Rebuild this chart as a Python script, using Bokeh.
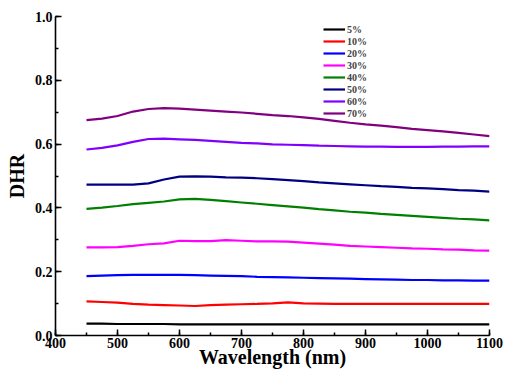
from bokeh.plotting import figure
from bokeh.embed import file_html
from bokeh.resources import INLINE
from bokeh.models import Range1d, SingleIntervalTicker, NumeralTickFormatter, Legend, LegendItem

wavelength = [450, 475, 500, 525, 550, 575, 600, 625, 650, 675, 700, 725, 750, 775,
              800, 825, 850, 875, 900, 925, 950, 975, 1000, 1025, 1050, 1075, 1100]

dhr_5 = [0.037, 0.037, 0.036, 0.036, 0.036, 0.036, 0.035, 0.035, 0.035, 0.035, 0.035, 0.035, 0.035, 0.035,
         0.035, 0.035, 0.035, 0.035, 0.035, 0.035, 0.035, 0.035, 0.035, 0.035, 0.035, 0.035, 0.035]
dhr_10 = [0.107, 0.105, 0.103, 0.099, 0.097, 0.0955, 0.094, 0.0925, 0.095, 0.097, 0.098, 0.099, 0.101, 0.104,
          0.101, 0.100, 0.099, 0.099, 0.099, 0.099, 0.099, 0.099, 0.099, 0.099, 0.099, 0.099, 0.099]
dhr_20 = [0.186, 0.188, 0.189, 0.190, 0.190, 0.190, 0.190, 0.189, 0.188, 0.187, 0.186, 0.184, 0.183, 0.182,
          0.181, 0.180, 0.179, 0.178, 0.177, 0.176, 0.175, 0.174, 0.174, 0.173, 0.173, 0.172, 0.172]
dhr_30 = [0.276, 0.276, 0.277, 0.281, 0.286, 0.289, 0.297, 0.296, 0.296, 0.299, 0.297, 0.295, 0.295, 0.294,
          0.291, 0.288, 0.285, 0.281, 0.279, 0.277, 0.275, 0.273, 0.272, 0.270, 0.269, 0.267, 0.266]
dhr_40 = [0.397, 0.401, 0.406, 0.412, 0.416, 0.420, 0.427, 0.428, 0.425, 0.421, 0.417, 0.413, 0.409, 0.405,
          0.401, 0.396, 0.392, 0.388, 0.385, 0.381, 0.378, 0.375, 0.372, 0.369, 0.366, 0.364, 0.361]
dhr_50 = [0.473, 0.473, 0.473, 0.473, 0.477, 0.489, 0.498, 0.499, 0.498, 0.496, 0.495, 0.493, 0.490, 0.487,
          0.484, 0.480, 0.477, 0.474, 0.471, 0.468, 0.466, 0.463, 0.461, 0.459, 0.456, 0.454, 0.451]
dhr_60 = [0.583, 0.588, 0.596, 0.607, 0.616, 0.617, 0.615, 0.613, 0.610, 0.607, 0.604, 0.602, 0.599, 0.598,
          0.597, 0.595, 0.594, 0.593, 0.592, 0.592, 0.591, 0.591, 0.591, 0.592, 0.592, 0.593, 0.593]
dhr_70 = [0.675, 0.680, 0.688, 0.702, 0.710, 0.713, 0.711, 0.708, 0.705, 0.702, 0.699, 0.695, 0.691, 0.688,
          0.684, 0.679, 0.673, 0.667, 0.662, 0.658, 0.653, 0.648, 0.644, 0.640, 0.635, 0.630, 0.625]

series_labels = ["5%", "10%", "20%", "30%", "40%", "50%", "60%", "70%"]
series_values = [dhr_5, dhr_10, dhr_20, dhr_30, dhr_40, dhr_50, dhr_60, dhr_70]
series_colors = ["#000000", "#FF0000", "#0000FF", "#FF00FF", "#008000", "#000080", "#8000FF", "#800080"]

x_title = "Wavelength (nm)"
y_title = "DHR"

FONT = "Liberation Serif"

p = figure(width=505, height=370, output_backend="svg", toolbar_location=None,
           x_range=Range1d(400, 1100), y_range=Range1d(0, 1.0))
p.min_border_left = 55
p.min_border_right = 16
p.min_border_top = 16
p.min_border_bottom = 35
p.outline_line_color = None
p.xgrid.visible = False
p.ygrid.visible = False
p.background_fill_color = "white"
p.border_fill_color = "white"

items = []
for lab, vals, col in zip(series_labels, series_values, series_colors):
    r = p.line(wavelength, vals, line_color=col, line_width=2.2)
    items.append(LegendItem(label=lab, renderers=[r]))

legend = Legend(items=items, location=(268, 216))
legend.padding = 0
legend.margin = 0
legend.spacing = 0
legend.border_line_color = None
legend.background_fill_alpha = 0
legend.label_text_font = FONT
legend.label_text_font_style = "bold"
legend.label_text_font_size = "10px"
legend.label_height = 12
legend.glyph_height = 12
legend.glyph_width = 22
legend.label_standoff = 2
p.add_layout(legend)

for ax in (p.xaxis[0], p.yaxis[0]):
    ax.axis_line_width = 1.6
    ax.major_tick_in = 6
    ax.major_tick_out = 0
    ax.minor_tick_in = 3
    ax.minor_tick_out = 0
    ax.major_tick_line_width = 1.5
    ax.minor_tick_line_width = 1.5
    ax.major_label_text_font = FONT
    ax.major_label_text_font_style = "bold"
    ax.major_label_text_font_size = "14px"
    ax.axis_label_text_font = FONT
    ax.axis_label_text_font_style = "bold"
    ax.axis_label_text_font_size = "20px"
    ax.major_label_text_color = "black"
    ax.axis_label_text_color = "black"

p.xaxis[0].ticker = SingleIntervalTicker(interval=100, num_minor_ticks=2)
p.yaxis[0].ticker = SingleIntervalTicker(interval=0.2, num_minor_ticks=2)
p.yaxis[0].formatter = NumeralTickFormatter(format="0.0")
p.xaxis[0].axis_label = x_title
p.yaxis[0].axis_label = y_title
p.xaxis[0].major_label_standoff = 2
p.xaxis[0].axis_label_standoff = -5
p.yaxis[0].major_label_standoff = 3
p.yaxis[0].axis_label_standoff = 4

open("out.html", "w").write(file_html(p, INLINE))
